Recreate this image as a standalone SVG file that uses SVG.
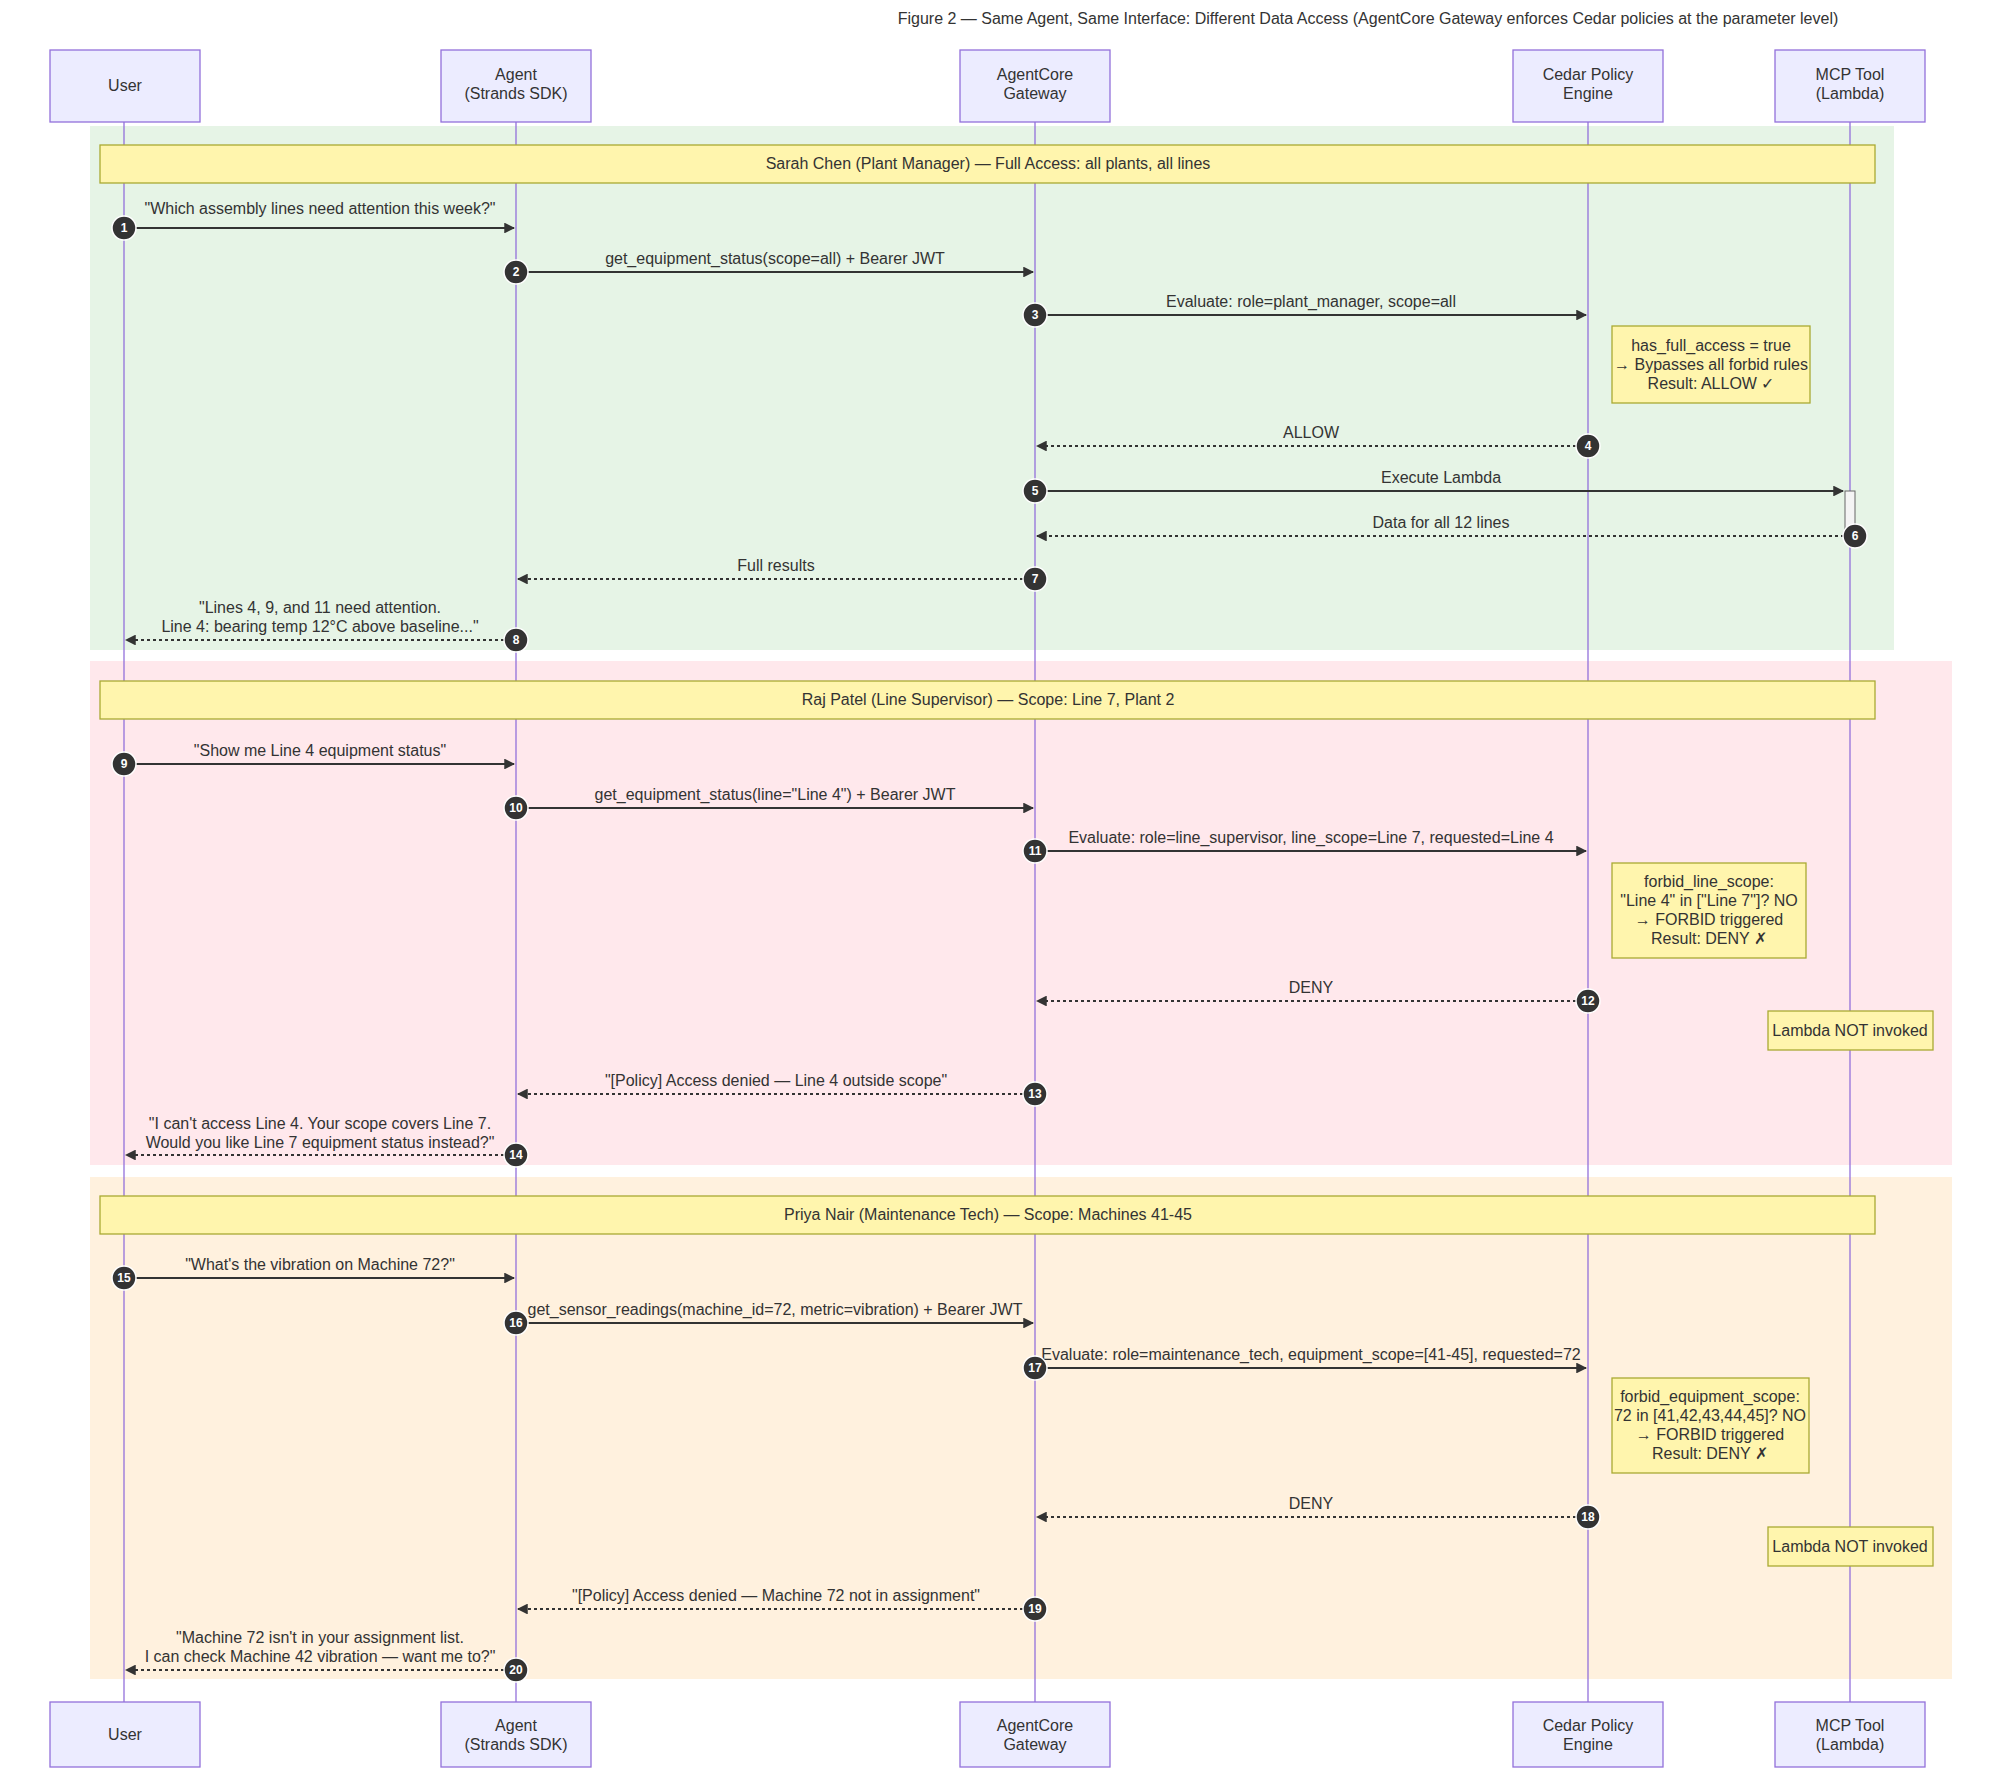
<svg xmlns="http://www.w3.org/2000/svg" width="2000" height="1776" viewBox="0 0 2000 1776">
<style>
text{font-family:"Liberation Sans",Arial,sans-serif;font-size:16px;fill:#333;text-anchor:middle}
.actor{fill:#ECECFF;stroke:#9370DB;stroke-width:1.3}
.life{stroke:#9370DB;stroke-width:1.3}
.note{fill:#fff5ad;stroke:#aaaa33;stroke-width:1.3}
.msg{stroke:#333;stroke-width:1.8;fill:none;marker-end:url(#ah)}
.dash{stroke-dasharray:3,3}
.num{fill:#333;stroke:#fff;stroke-width:1.5}
.nt{fill:#fff;font-size:12px;font-weight:bold}
</style>
<defs>
<marker id="ah" viewBox="0 0 10 10" refX="9" refY="5" markerWidth="6" markerHeight="6" orient="auto"><path d="M0,0L10,5L0,10z" fill="#333"/></marker>
</defs>
<rect width="2000" height="1776" fill="#fff"/>
<text x="1368" y="24">Figure 2 — Same Agent, Same Interface: Different Data Access (AgentCore Gateway enforces Cedar policies at the parameter level)</text>
<g id="sections">
<rect x="90" y="126" width="1804" height="524" fill="#E6F4E6"/>
<rect x="90" y="661" width="1862" height="504" fill="#FFE8EC"/>
<rect x="90" y="1177" width="1862" height="502" fill="#FFF1DE"/>
</g>
<g id="lifelines">
<line class="life" x1="124" y1="122" x2="124" y2="1702"/>
<line class="life" x1="516" y1="122" x2="516" y2="1702"/>
<line class="life" x1="1035" y1="122" x2="1035" y2="1702"/>
<line class="life" x1="1588" y1="122" x2="1588" y2="1702"/>
<line class="life" x1="1850" y1="122" x2="1850" y2="1702"/>
</g>
<g id="User"><rect class="actor" x="50" y="50" width="150" height="72"/><text x="125" y="91">User</text>
<rect class="actor" x="50" y="1702" width="150" height="65"/><text x="125" y="1740">User</text></g>
<g id="Agent"><rect class="actor" x="441" y="50" width="150" height="72"/><text x="516" y="80">Agent</text><text x="516" y="99">(Strands SDK)</text>
<rect class="actor" x="441" y="1702" width="150" height="65"/><text x="516" y="1731">Agent</text><text x="516" y="1750">(Strands SDK)</text></g>
<g id="Gateway"><rect class="actor" x="960" y="50" width="150" height="72"/><text x="1035" y="80">AgentCore</text><text x="1035" y="99">Gateway</text>
<rect class="actor" x="960" y="1702" width="150" height="65"/><text x="1035" y="1731">AgentCore</text><text x="1035" y="1750">Gateway</text></g>
<g id="Cedar"><rect class="actor" x="1513" y="50" width="150" height="72"/><text x="1588" y="80">Cedar Policy</text><text x="1588" y="99">Engine</text>
<rect class="actor" x="1513" y="1702" width="150" height="65"/><text x="1588" y="1731">Cedar Policy</text><text x="1588" y="1750">Engine</text></g>
<g id="MCP"><rect class="actor" x="1775" y="50" width="150" height="72"/><text x="1850" y="80">MCP Tool</text><text x="1850" y="99">(Lambda)</text>
<rect class="actor" x="1775" y="1702" width="150" height="65"/><text x="1850" y="1731">MCP Tool</text><text x="1850" y="1750">(Lambda)</text></g>
<g id="notes">
<rect class="note" x="100" y="145" width="1775" height="38"/><text x="988" y="169">Sarah Chen (Plant Manager) — Full Access: all plants, all lines</text>
<rect class="note" x="100" y="681" width="1775" height="38"/><text x="988" y="705">Raj Patel (Line Supervisor) — Scope: Line 7, Plant 2</text>
<rect class="note" x="100" y="1196" width="1775" height="38"/><text x="988" y="1220">Priya Nair (Maintenance Tech) — Scope: Machines 41-45</text>
<rect class="note" x="1612" y="326" width="198" height="77"/><text x="1711" y="351">has_full_access = true</text><text x="1711" y="370">→ Bypasses all forbid rules</text><text x="1711" y="389">Result: ALLOW ✓</text>
<rect class="note" x="1612" y="863" width="194" height="95"/><text x="1709" y="887">forbid_line_scope:</text><text x="1709" y="906">"Line 4" in ["Line 7"]? NO</text><text x="1709" y="925">→ FORBID triggered</text><text x="1709" y="944">Result: DENY ✗</text>
<rect class="note" x="1768" y="1011" width="165" height="39"/><text x="1850" y="1036">Lambda NOT invoked</text>
<rect class="note" x="1612" y="1378" width="197" height="95"/><text x="1710" y="1402">forbid_equipment_scope:</text><text x="1710" y="1421">72 in [41,42,43,44,45]? NO</text><text x="1710" y="1440">→ FORBID triggered</text><text x="1710" y="1459">Result: DENY ✗</text>
<rect class="note" x="1768" y="1527" width="165" height="39"/><text x="1850" y="1552">Lambda NOT invoked</text>
<rect x="1845" y="491" width="10" height="45" fill="#f4f4f4" stroke="#666"/>
</g>
<g id="connectors">
<line class="msg" x1="124" y1="228" x2="514" y2="228"/><text x="320" y="214">"Which assembly lines need attention this week?"</text>
<line class="msg" x1="516" y1="272" x2="1033" y2="272"/><text x="775" y="264">get_equipment_status(scope=all) + Bearer JWT</text>
<line class="msg" x1="1035" y1="315" x2="1586" y2="315"/><text x="1311" y="307">Evaluate: role=plant_manager, scope=all</text>
<line class="msg dash" x1="1588" y1="446" x2="1037" y2="446"/><text x="1311" y="438">ALLOW</text>
<line class="msg" x1="1035" y1="491" x2="1843" y2="491"/><text x="1441" y="483">Execute Lambda</text>
<line class="msg dash" x1="1850" y1="536" x2="1037" y2="536"/><text x="1441" y="528">Data for all 12 lines</text>
<line class="msg dash" x1="1035" y1="579" x2="518" y2="579"/><text x="776" y="571">Full results</text>
<line class="msg dash" x1="516" y1="640" x2="126" y2="640"/><text x="320" y="613">"Lines 4, 9, and 11 need attention.</text><text x="320" y="632">Line 4: bearing temp 12°C above baseline..."</text>
<line class="msg" x1="124" y1="764" x2="514" y2="764"/><text x="320" y="756">"Show me Line 4 equipment status"</text>
<line class="msg" x1="516" y1="808" x2="1033" y2="808"/><text x="775" y="800">get_equipment_status(line="Line 4") + Bearer JWT</text>
<line class="msg" x1="1035" y1="851" x2="1586" y2="851"/><text x="1311" y="843">Evaluate: role=line_supervisor, line_scope=Line 7, requested=Line 4</text>
<line class="msg dash" x1="1588" y1="1001" x2="1037" y2="1001"/><text x="1311" y="993">DENY</text>
<line class="msg dash" x1="1035" y1="1094" x2="518" y2="1094"/><text x="776" y="1086">"[Policy] Access denied — Line 4 outside scope"</text>
<line class="msg dash" x1="516" y1="1155" x2="126" y2="1155"/><text x="320" y="1129">"I can't access Line 4. Your scope covers Line 7.</text><text x="320" y="1148">Would you like Line 7 equipment status instead?"</text>
<line class="msg" x1="124" y1="1278" x2="514" y2="1278"/><text x="320" y="1270">"What's the vibration on Machine 72?"</text>
<line class="msg" x1="516" y1="1323" x2="1033" y2="1323"/><text x="775" y="1315">get_sensor_readings(machine_id=72, metric=vibration) + Bearer JWT</text>
<line class="msg" x1="1035" y1="1368" x2="1586" y2="1368"/><text x="1311" y="1360">Evaluate: role=maintenance_tech, equipment_scope=[41-45], requested=72</text>
<line class="msg dash" x1="1588" y1="1517" x2="1037" y2="1517"/><text x="1311" y="1509">DENY</text>
<line class="msg dash" x1="1035" y1="1609" x2="518" y2="1609"/><text x="776" y="1601">"[Policy] Access denied — Machine 72 not in assignment"</text>
<line class="msg dash" x1="516" y1="1670" x2="126" y2="1670"/><text x="320" y="1643">"Machine 72 isn't in your assignment list.</text><text x="320" y="1662">I can check Machine 42 vibration — want me to?"</text>
</g>
<g id="numbers">
<circle class="num" cx="124" cy="228" r="12"/><text class="nt" x="124" y="232">1</text>
<circle class="num" cx="516" cy="272" r="12"/><text class="nt" x="516" y="276">2</text>
<circle class="num" cx="1035" cy="315" r="12"/><text class="nt" x="1035" y="319">3</text>
<circle class="num" cx="1588" cy="446" r="12"/><text class="nt" x="1588" y="450">4</text>
<circle class="num" cx="1035" cy="491" r="12"/><text class="nt" x="1035" y="495">5</text>
<circle class="num" cx="1855" cy="536" r="12"/><text class="nt" x="1855" y="540">6</text>
<circle class="num" cx="1035" cy="579" r="12"/><text class="nt" x="1035" y="583">7</text>
<circle class="num" cx="516" cy="640" r="12"/><text class="nt" x="516" y="644">8</text>
<circle class="num" cx="124" cy="764" r="12"/><text class="nt" x="124" y="768">9</text>
<circle class="num" cx="516" cy="808" r="12"/><text class="nt" x="516" y="812">10</text>
<circle class="num" cx="1035" cy="851" r="12"/><text class="nt" x="1035" y="855">11</text>
<circle class="num" cx="1588" cy="1001" r="12"/><text class="nt" x="1588" y="1005">12</text>
<circle class="num" cx="1035" cy="1094" r="12"/><text class="nt" x="1035" y="1098">13</text>
<circle class="num" cx="516" cy="1155" r="12"/><text class="nt" x="516" y="1159">14</text>
<circle class="num" cx="124" cy="1278" r="12"/><text class="nt" x="124" y="1282">15</text>
<circle class="num" cx="516" cy="1323" r="12"/><text class="nt" x="516" y="1327">16</text>
<circle class="num" cx="1035" cy="1368" r="12"/><text class="nt" x="1035" y="1372">17</text>
<circle class="num" cx="1588" cy="1517" r="12"/><text class="nt" x="1588" y="1521">18</text>
<circle class="num" cx="1035" cy="1609" r="12"/><text class="nt" x="1035" y="1613">19</text>
<circle class="num" cx="516" cy="1670" r="12"/><text class="nt" x="516" y="1674">20</text>
</g>
</svg>
